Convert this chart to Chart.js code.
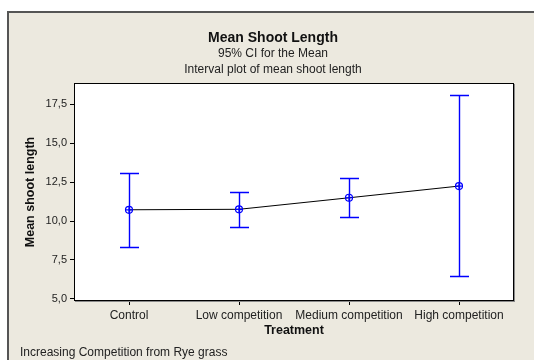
<!DOCTYPE html>
<html>
<head>
<meta charset="utf-8">
<script src="https://cdn.jsdelivr.net/npm/chart.js@4/dist/chart.umd.min.js"></script>
<style>
  html, body { margin: 0; padding: 0; background: #ffffff; }
  canvas { display: block; }
</style>
</head>
<body>
<canvas id="c" width="534" height="360"></canvas>
<script>
// ---- data ----
const categories = ['Control', 'Low competition', 'Medium competition', 'High competition'];
const meanValues = [10.72, 10.75, 11.49, 12.24];
const upperCI    = [13.10, 11.88, 12.74, 18.06];
const lowerCI    = [8.35, 9.62, 10.26, 6.47];
const yTickValues = [5.0, 7.5, 10.0, 12.5, 15.0, 17.5];
const yTickLabels = ['5,0', '7,5', '10,0', '12,5', '15,0', '17,5'];

const titleText = 'Mean Shoot Length';
const subtitleLines = ['95% CI for the Mean', 'Interval plot of mean shoot length'];
const footnoteText = 'Increasing Competition from Rye grass';

const FONT = "'Liberation Sans', Arial, sans-serif";
const BEIGE = '#ECE9DF';
const BLUE = '#0000FF';

const framePlugin = {
  id: 'frame',
  beforeDraw(chart) {
    const ctx = chart.ctx;
    const a = chart.chartArea;
    ctx.save();
    ctx.fillStyle = '#ffffff';
    ctx.fillRect(0, 0, chart.width, chart.height);
    ctx.fillStyle = BEIGE;
    ctx.fillRect(7, 11, chart.width - 7, chart.height - 11);
    ctx.fillStyle = '#555555';
    ctx.fillRect(7, 11, chart.width - 7, 2);
    ctx.fillRect(7, 11, 2, chart.height - 11);
    ctx.fillStyle = '#ffffff';
    ctx.fillRect(a.left, a.top, a.right - a.left, a.bottom - a.top);
    // titles
    ctx.fillStyle = '#111111';
    ctx.textAlign = 'center';
    ctx.textBaseline = 'middle';
    ctx.font = 'bold 14px ' + FONT;
    ctx.fillText(titleText, 273, 38);
    ctx.font = '12px ' + FONT;
    ctx.fillStyle = '#222222';
    ctx.fillText(subtitleLines[0], 273, 54);
    ctx.fillText(subtitleLines[1], 273, 70);
    ctx.textAlign = 'left';
    ctx.fillText(footnoteText, 20, 353);
    ctx.restore();
  },
  beforeDatasetsDraw(chart) {
    const ctx = chart.ctx;
    const xs = chart.scales.x, ys = chart.scales.y;
    ctx.save();
    ctx.strokeStyle = BLUE;
    ctx.lineWidth = 1.4;
    for (let i = 0; i < categories.length; i++) {
      const x = Math.round(xs.getPixelForValue(i)) + 0.5;
      const yHi = Math.round(ys.getPixelForValue(upperCI[i])) + 0.5;
      const yLo = Math.round(ys.getPixelForValue(lowerCI[i])) + 0.5;
      ctx.beginPath();
      ctx.moveTo(x, yHi); ctx.lineTo(x, yLo);
      ctx.moveTo(x - 9.5, yHi); ctx.lineTo(x + 9.5, yHi);
      ctx.moveTo(x - 9.5, yLo); ctx.lineTo(x + 9.5, yLo);
      ctx.stroke();
    }
    ctx.restore();
  },
  afterDraw(chart) {
    const ctx = chart.ctx;
    const a = chart.chartArea;
    ctx.save();
    ctx.strokeStyle = '#000000';
    ctx.lineWidth = 1;
    ctx.strokeRect(a.left + 0.5, a.top + 0.5, a.right - a.left - 1, a.bottom - a.top - 1);
    ctx.strokeStyle = '#8a8a8a';
    ctx.beginPath();
    ctx.moveTo(a.right + 0.5, a.top + 1); ctx.lineTo(a.right + 0.5, a.bottom + 1);
    ctx.moveTo(a.left + 1, a.bottom + 0.5); ctx.lineTo(a.right + 1, a.bottom + 0.5);
    ctx.stroke();
    ctx.restore();
  }
};

new Chart(document.getElementById('c'), {
  type: 'line',
  data: {
    labels: categories,
    datasets: [
      {
        data: meanValues,
        borderColor: '#000000',
        borderWidth: 1,
        pointRadius: 0,
        tension: 0,
        fill: false,
        order: 3
      },
      {
        data: meanValues,
        showLine: false,
        pointStyle: 'circle',
        pointRadius: 3.5,
        pointBorderWidth: 1.2,
        pointBorderColor: BLUE,
        pointBackgroundColor: 'rgba(0,0,0,0)',
        order: 1
      },
      {
        data: meanValues,
        showLine: false,
        pointStyle: 'cross',
        pointRadius: 3.5,
        pointBorderWidth: 1.2,
        pointBorderColor: BLUE,
        order: 1
      }
    ]
  },
  options: {
    responsive: false,
    devicePixelRatio: 1,
    animation: false,
    events: [],
    layout: { padding: { left: 0, top: 83, right: 20, bottom: 0 } },
    plugins: {
      legend: { display: false },
      tooltip: { enabled: false },
      title: { display: false }
    },
    scales: {
      x: {
        type: 'category',
        offset: true,
        afterFit(scale) { scale.height = 59; },
        grid: { display: true, drawOnChartArea: false, drawTicks: true, tickLength: 4, color: '#000000', offset: false },
        border: { display: false },
        ticks: { color: '#222222', font: { family: FONT, size: 12 }, padding: 3, maxRotation: 0, autoSkip: false },
        title: {
          display: true, text: 'Treatment', color: '#111111',
          font: { family: FONT, size: 12.5, weight: 'bold' },
          padding: { top: 0, bottom: 22 }
        }
      },
      y: {
        type: 'linear',
        min: 4.87,
        max: 18.85,
        afterFit(scale) { scale.width = 74; },
        afterBuildTicks(scale) { scale.ticks = yTickValues.map(v => ({ value: v })); },
        grid: { display: true, drawOnChartArea: false, drawTicks: true, tickLength: 4, color: '#000000' },
        border: { display: false },
        ticks: {
          color: '#222222', font: { family: FONT, size: 11 }, padding: 3,
          callback(value) {
            const i = yTickValues.indexOf(value);
            return i >= 0 ? yTickLabels[i] : '';
          }
        },
        title: {
          display: true, text: 'Mean shoot length', color: '#111111',
          font: { family: FONT, size: 12.5, weight: 'bold' },
          padding: { top: 23, bottom: 0 }
        }
      }
    }
  },
  plugins: [framePlugin]
});
</script>
</body>
</html>
